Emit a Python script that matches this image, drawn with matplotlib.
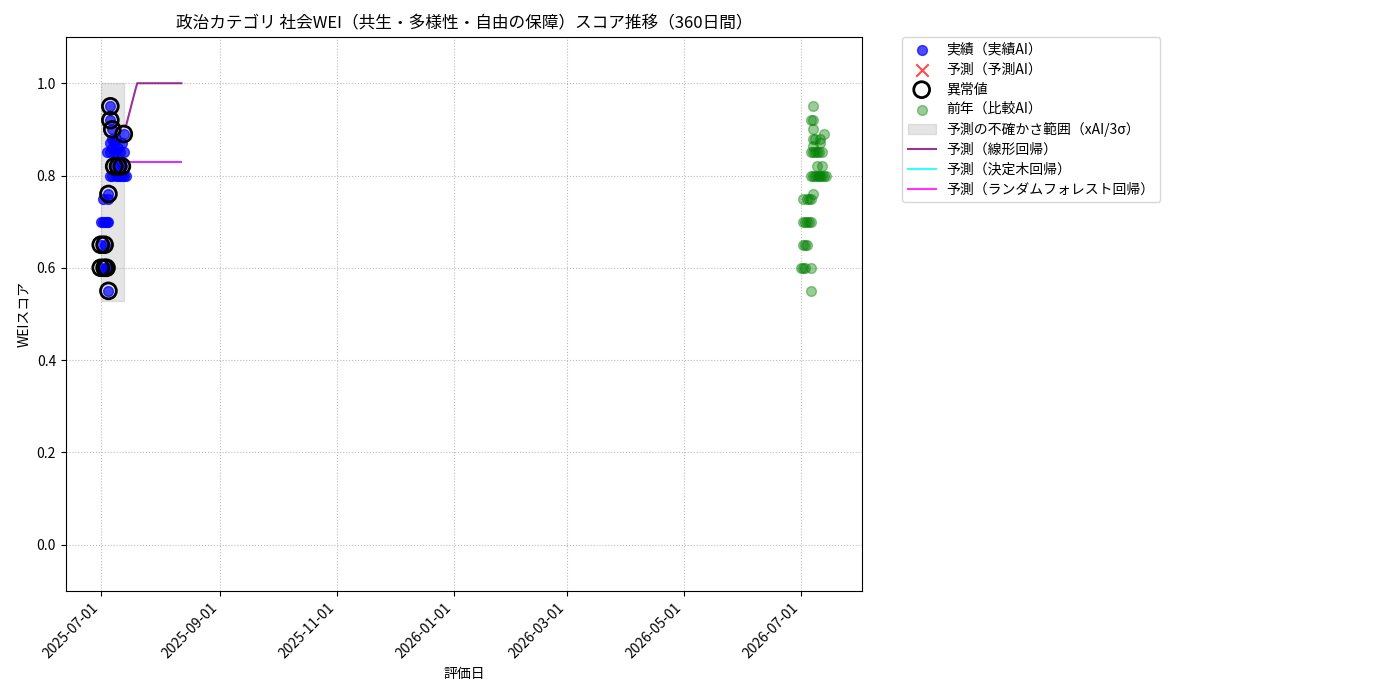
import matplotlib
matplotlib.use("Agg")
import matplotlib.pyplot as plt
import matplotlib.dates as mdates
import numpy as np
import pandas as pd

plt.rcParams['font.family'] = ['Noto Sans CJK JP', 'DejaVu Sans']

# --- actual (this year) ---
actual_dates = ["2025-07-01", "2025-07-01", "2025-07-01",
                "2025-07-02", "2025-07-02",
                "2025-07-03", "2025-07-03", "2025-07-03",
                "2025-07-04", "2025-07-04", "2025-07-04",
                "2025-07-05", "2025-07-05", "2025-07-05", "2025-07-05",
                "2025-07-06", "2025-07-06", "2025-07-06", "2025-07-06", "2025-07-06",
                "2025-07-07", "2025-07-07", "2025-07-07", "2025-07-07",
                "2025-07-08", "2025-07-08", "2025-07-08",
                "2025-07-09", "2025-07-09", "2025-07-09",
                "2025-07-10", "2025-07-10", "2025-07-10",
                "2025-07-11", "2025-07-11",
                "2025-07-12", "2025-07-12", "2025-07-12",
                "2025-07-13", "2025-07-13", "2025-07-13",
                "2025-07-14"]
actual_vals = [0.60, 0.65, 0.70,
               0.70, 0.75,
               0.60, 0.65, 0.70,
               0.60, 0.70, 0.85,
               0.55, 0.75, 0.76, 0.70,
               0.95, 0.92, 0.85, 0.80, 0.87,
               0.90, 0.88, 0.86, 0.80,
               0.82, 0.85, 0.87,
               0.85, 0.80, 0.88,
               0.82, 0.86, 0.80,
               0.85, 0.80,
               0.82, 0.87, 0.80,
               0.89, 0.85, 0.80,
               0.80]
outlier_flags = [1, 1, 0,
                 0, 0,
                 1, 1, 0,
                 1, 0, 0,
                 1, 0, 1, 0,
                 1, 1, 0, 0, 0,
                 1, 0, 0, 0,
                 1, 0, 0,
                 0, 0, 0,
                 1, 0, 0,
                 0, 0,
                 1, 0, 0,
                 1, 0, 0,
                 0]

# --- previous year (comparison AI) ---
prev_dates = ["2026-07-01", "2026-07-02", "2026-07-02", "2026-07-03", "2026-07-04",
              "2026-07-02", "2026-07-03", "2026-07-04", "2026-07-05", "2026-07-06",
              "2026-07-02", "2026-07-04", "2026-07-05",
              "2026-07-03", "2026-07-06", "2026-07-06", "2026-07-07",
              "2026-07-07", "2026-07-06",
              "2026-07-07", "2026-07-07", "2026-07-08", "2026-07-13",
              "2026-07-07", "2026-07-11", "2026-07-11", "2026-07-07",
              "2026-07-06", "2026-07-07", "2026-07-08", "2026-07-09", "2026-07-10", "2026-07-12",
              "2026-07-09", "2026-07-12",
              "2026-07-06", "2026-07-07", "2026-07-08", "2026-07-09", "2026-07-10", "2026-07-11", "2026-07-12", "2026-07-13", "2026-07-14",
              "2026-07-06"]
prev_vals = [0.60, 0.60, 0.65, 0.65, 0.65,
             0.70, 0.70, 0.70, 0.70, 0.70,
             0.75, 0.75, 0.75,
             0.60, 0.60, 0.75, 0.76,
             0.95, 0.92,
             0.92, 0.90, 0.88, 0.89,
             0.88, 0.88, 0.87, 0.865,
             0.85, 0.85, 0.85, 0.85, 0.85, 0.85,
             0.82, 0.82,
             0.80, 0.80, 0.80, 0.80, 0.80, 0.80, 0.80, 0.80, 0.80,
             0.55]

# --- uncertainty band ---
band_dates = ["2025-07-01", "2025-07-13"]
band_low = [0.529, 0.529]
band_high = [1.0, 1.0]

# --- predictions ---
pred_start = "2025-07-14"
pred_days = 30
pred_linear = [0.905, 0.921, 0.937, 0.953, 0.969, 0.985] + [1.0] * 24
pred_tree = [0.829] * 30
pred_rf = [0.829] * 30

actual_d = pd.to_datetime(actual_dates)
actual_v = np.array(actual_vals)
out_mask = np.array(outlier_flags) == 1
prev_d = pd.to_datetime(prev_dates)
pred_d = pd.date_range(pred_start, periods=pred_days, freq="D")

fig = plt.figure(figsize=(14, 7), dpi=100)
ax = fig.add_axes([0.047, 0.156, 0.569, 0.791])

ax.scatter(actual_d, actual_v, color="blue", alpha=0.7, s=50, label="実績（実績AI）", zorder=3)
ax.scatter([], [], color="red", marker="x", s=80, alpha=0.7, label="予測（予測AI）")
ax.scatter(actual_d[out_mask], actual_v[out_mask], facecolors="none", edgecolors="black",
           s=130, linewidths=2, label="異常値", zorder=4)
ax.scatter(prev_d, prev_vals, color="green", alpha=0.4, s=50, label="前年（比較AI）", zorder=3)
ax.fill_between(pd.to_datetime(band_dates), band_low, band_high, color="gray", alpha=0.2,
                label="予測の不確かさ範囲（xAI/3σ）", zorder=1)
ax.plot(pred_d, pred_linear, color="purple", alpha=0.8, lw=1.5, label="予測（線形回帰）", zorder=2)
ax.plot(pred_d, pred_tree, color="cyan", alpha=0.8, lw=1.5, label="予測（決定木回帰）", zorder=2)
ax.plot(pred_d, pred_rf, color="magenta", alpha=0.8, lw=1.5, label="予測（ランダムフォレスト回帰）", zorder=2)

ax.set_ylim(-0.1, 1.1)
ax.set_yticks([0.0, 0.2, 0.4, 0.6, 0.8, 1.0])
ax.set_xlim(pd.Timestamp("2025-06-12 19:00"), pd.Timestamp("2026-08-01 20:00"))
ax.xaxis.set_major_locator(mdates.MonthLocator(bymonth=[1, 3, 5, 7, 9, 11]))
ax.xaxis.set_major_formatter(mdates.DateFormatter("%Y-%m-%d"))
plt.setp(ax.get_xticklabels(), rotation=45, ha="right")
ax.grid(True, linestyle=":", color="#bbbbbb", linewidth=0.8)
ax.set_xlabel("評価日")
ax.set_ylabel("WEIスコア")
ax.set_title("政治カテゴリ 社会WEI（共生・多様性・自由の保障）スコア推移（360日間）", fontsize=12)
ax.legend(loc="upper left", bbox_to_anchor=(1.05, 1), borderaxespad=0, labelspacing=0.42)

fig.savefig("out.png", dpi=100)
